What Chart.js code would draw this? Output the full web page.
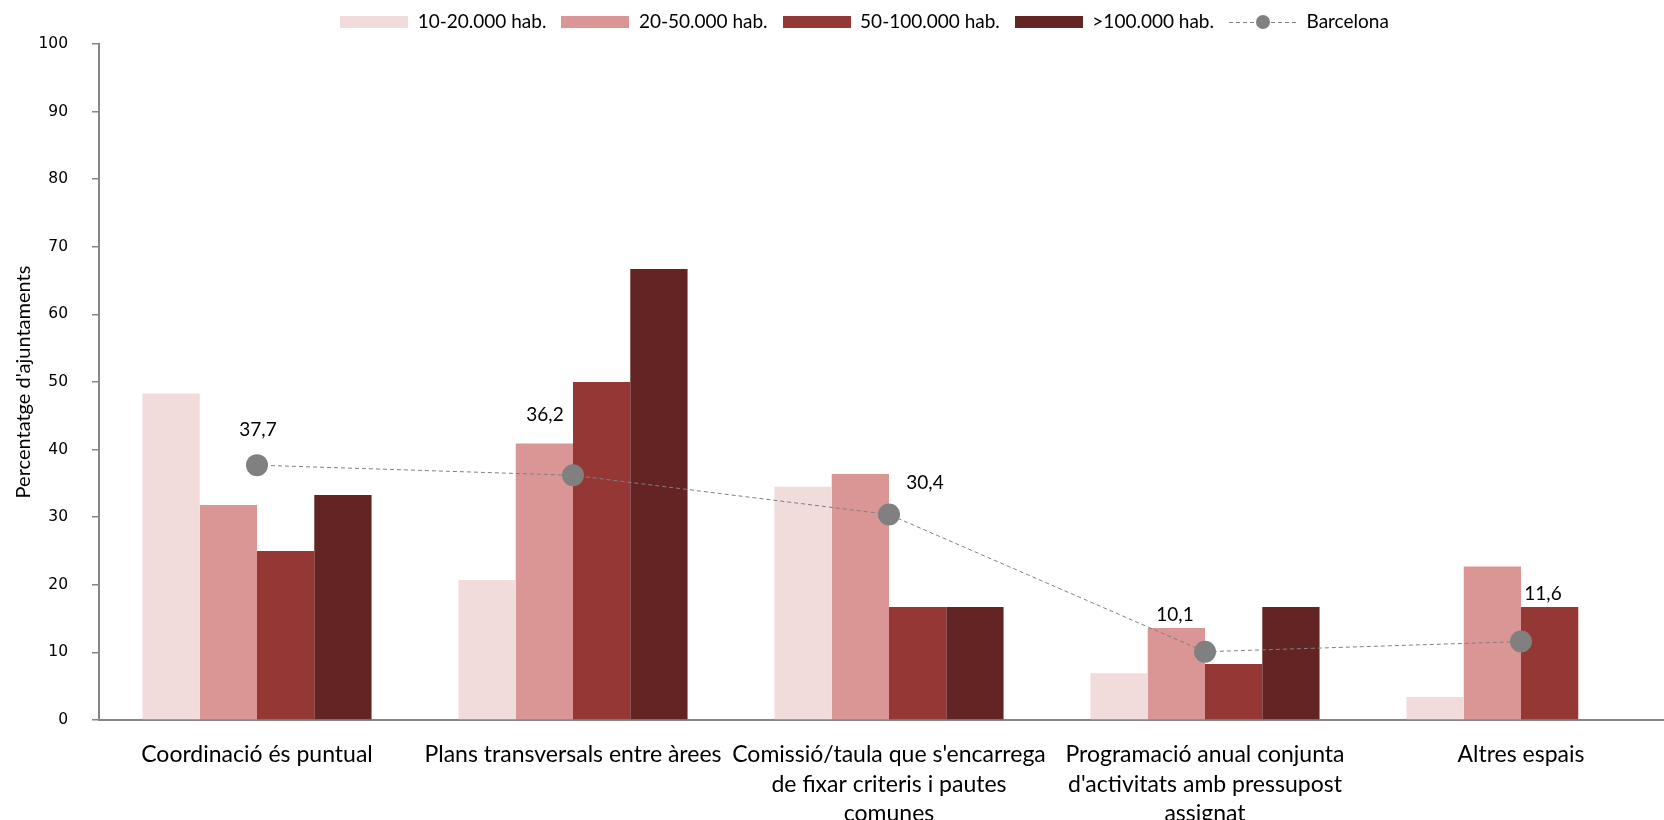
<!DOCTYPE html>
<html>
<head>
<meta charset="utf-8">
<script src="https://cdn.jsdelivr.net/npm/chart.js@4/dist/chart.umd.min.js"></script>
<style>
  html, body { margin: 0; padding: 0; background: #fff; overflow: hidden; }
  #wrap { width: 1720px; height: 850px; }
</style>
</head>
<body>
<div id="wrap"><canvas id="myChart" width="1720" height="850"></canvas></div>
<script>
// Data
var categories = [
  'Coordinació és puntual',
  'Plans transversals entre àrees',
  ["Comissió/taula que s'encarrega", 'de fixar criteris i pautes', 'comunes'],
  ['Programació anual conjunta', "d'activitats amb pressupost", 'assignat'],
  'Altres espais'
]
var seriesNames = ['10-20.000 hab.', '20-50.000 hab.', '50-100.000 hab.', '>100.000 hab.']
var hab10_20 = [48.3, 20.7, 34.5, 6.9, 3.4]
var hab20_50 = [31.8, 40.9, 36.4, 13.6, 22.7]
var hab50_100 = [25.0, 50.0, 16.7, 8.3, 16.7]
var habOver100 = [33.3, 66.7, 16.7, 16.7, 0]
var barcelonaName = 'Barcelona'
var barcelona = [37.7, 36.2, 30.4, 10.1, 11.6]
var yMin = 0, yMax = 100, yStep = 10
var yTitle = "Percentatge d'ajuntaments"

;(function () {
  'use strict'

  var barColors = ['#F2DCDB', '#DA9694', '#953735', '#632523']
  var grey = '#808080'
  var axisGrey = '#868686'

  // legend icons
  function boxIcon(color) {
    var c = document.createElement('canvas')
    c.width = 68; c.height = 12
    var g = c.getContext('2d')
    g.fillStyle = color
    g.fillRect(0, 0, 68, 12)
    return c
  }
  function lineIcon() {
    var c = document.createElement('canvas')
    c.width = 68; c.height = 16
    var g = c.getContext('2d')
    g.strokeStyle = grey
    g.lineWidth = 1
    g.setLineDash([4, 3])
    g.beginPath(); g.moveTo(0, 8.5); g.lineTo(68, 8.5); g.stroke()
    g.fillStyle = grey
    g.beginPath(); g.arc(34, 8, 7, 0, Math.PI * 2); g.fill()
    return c
  }
  var icons = barColors.map(boxIcon).concat([lineIcon()])

  var barSeries = [hab10_20, hab20_50, hab50_100, habOver100]
  var datasets = barSeries.map(function (vals, i) {
    return {
      type: 'bar',
      label: seriesNames[i],
      data: vals,
      backgroundColor: barColors[i],
      borderWidth: 0,
      categoryPercentage: 0.725,
      barPercentage: 1,
      order: 1
    }
  })
  datasets.push({
    type: 'line',
    label: barcelonaName,
    data: barcelona,
    borderColor: grey,
    borderWidth: 1,
    borderDash: [4, 3],
    pointRadius: 11,
    pointHoverRadius: 11,
    pointBackgroundColor: grey,
    pointBorderWidth: 0,
    tension: 0,
    fill: false,
    order: 0
  })

  // value labels over the Barcelona points
  var labelOffsets = [[1, -35], [-28, -60], [36, -32], [-30, -37], [22, -48]]
  var valueLabels = {
    id: 'valueLabels',
    afterDatasetsDraw: function (chart) {
      var meta = chart.getDatasetMeta(4)
      var ctx = chart.ctx
      ctx.save()
      ctx.font = '19px Lato'
      ctx.fillStyle = '#000'
      ctx.textAlign = 'center'
      ctx.textBaseline = 'middle'
      meta.data.forEach(function (pt, i) {
        var txt = barcelona[i].toFixed(1).replace('.', ',')
        ctx.fillText(txt, pt.x + labelOffsets[i][0], pt.y + labelOffsets[i][1])
      })
      ctx.restore()
    }
  }

  // nudge the legend to where the original has it
  var legendShift = {
    id: 'legendShift',
    afterLayout: function (chart) {
      var lg = chart.legend
      lg.left += 25; lg.right += 25
      lg.top -= 2.5; lg.bottom -= 2.5
    }
  }

  var ctx = document.getElementById('myChart')
  var config = {
    type: 'bar',
    data: { labels: categories, datasets: datasets },
    options: {
      responsive: false,
      animation: false,
      devicePixelRatio: 1,
      layout: { padding: { left: 0, right: 41, top: 0, bottom: 0 } },
      scales: {
        x: {
          grid: { display: false },
          border: { display: true, color: axisGrey, width: 2 },
          ticks: {
            color: '#000',
            font: { family: 'Lato', size: 23, lineHeight: 1.28 },
            maxRotation: 0,
            autoSkip: false,
            padding: 12
          },
          afterFit: function (scale) { scale.height = 130 }
        },
        y: {
          min: yMin,
          max: yMax,
          grid: { display: true, drawOnChartArea: false, drawTicks: true, tickLength: 7, color: axisGrey, lineWidth: 1.5 },
          border: { display: true, color: axisGrey, width: 2 },
          ticks: {
            stepSize: yStep,
            color: '#000',
            font: { family: 'DejaVu Sans', size: 15.5 },
            padding: 24
          },
          title: {
            display: true,
            text: yTitle,
            color: '#000',
            font: { family: 'Lato', size: 20 },
            padding: { top: 12, bottom: 0 }
          },
          afterFit: function (scale) { scale.width = 99 }
        }
      },
      plugins: {
        legend: {
          position: 'top',
          labels: {
            usePointStyle: true,
            pointStyleWidth: 68,
            padding: 15,
            color: '#000',
            font: { family: 'Lato', size: 19 },
            generateLabels: function (chart) {
              return chart.data.datasets.map(function (ds, i) {
                return {
                  text: ds.label,
                  pointStyle: icons[i],
                  datasetIndex: i,
                  hidden: false,
                  fillStyle: 'transparent',
                  strokeStyle: 'transparent',
                  lineWidth: 0,
                  fontColor: '#000'
                }
              })
            }
          }
        },
        tooltip: { enabled: false }
      }
    },
    plugins: [valueLabels, legendShift]
  }
  var barChart = new Chart(ctx, config)
})()
</script>
</body>
</html>
